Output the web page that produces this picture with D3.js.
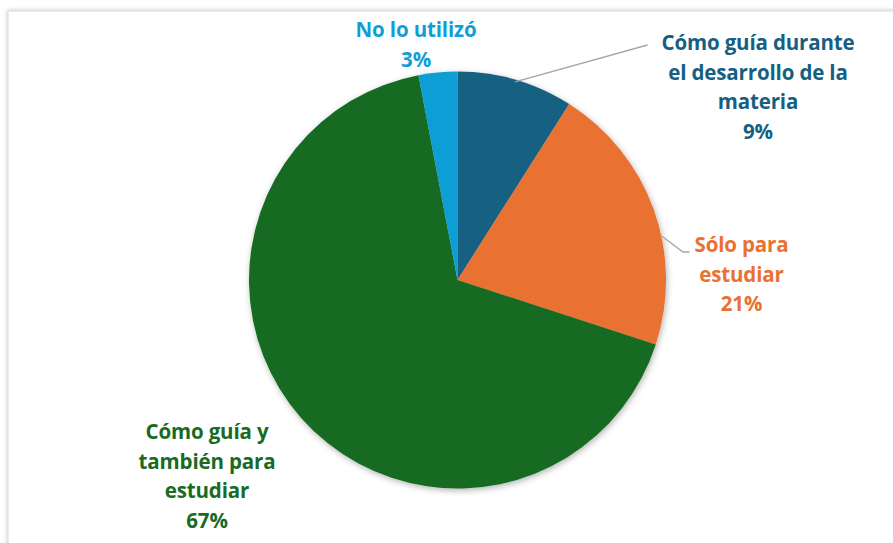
<!DOCTYPE html>
<html><head><meta charset="utf-8">
<script src="https://cdn.jsdelivr.net/npm/d3@7"></script>
<style>
html,body{margin:0;padding:0;background:#fff;}
svg{display:block;}
</style></head>
<body>
<svg id="chart" width="893" height="543"></svg>
<script>
const categories = ["Cómo guía durante el desarrollo de la materia", "Sólo para estudiar", "Cómo guía y también para estudiar", "No lo utilizó"];
const labelLines = [["Cómo guía durante", "el desarrollo de la", "materia"], ["Sólo para", "estudiar"], ["Cómo guía y", "también para", "estudiar"], ["No lo utilizó"]];
const values = [9, 21, 67, 3];
const colors = ["#156082", "#E97132", "#196B24", "#0F9ED5"];

const svg = d3.select("#chart");
const W = 893, H = 543;

const defs = svg.append("defs");
const fs = defs.append("filter").attr("id","frameShadow").attr("x","-5%").attr("y","-5%").attr("width","110%").attr("height","110%");
fs.append("feDropShadow").attr("dx",0).attr("dy",0).attr("stdDeviation",2).attr("flood-color","#000").attr("flood-opacity",0.25);
svg.append("rect").attr("x",8).attr("y",11).attr("width",W+20).attr("height",H+20)
  .attr("fill","#fff").attr("stroke","#d9d9d9").attr("stroke-width",1).attr("filter","url(#frameShadow)");

const ps = defs.append("filter").attr("id","pieShadow").attr("x","-20%").attr("y","-20%").attr("width","140%").attr("height","140%");
ps.append("feDropShadow").attr("dx",1).attr("dy",2).attr("stdDeviation",3).attr("flood-color","#000").attr("flood-opacity",0.3);

const cx = 457.5, cy = 280, R = 208.5;
const g = svg.append("g").attr("transform",`translate(${cx},${cy})`);

const pie = d3.pie().sort(null).value(d => d);
const arcs = pie(values);
const arc = d3.arc().innerRadius(0).outerRadius(R);

g.append("g").attr("filter","url(#pieShadow)").selectAll("path").data(arcs).join("path")
  .attr("d", arc).attr("fill", (d,i) => colors[i]);

const labelPos = [
  {dx: 300.5, dy: -237},
  {dx: 284, dy: -35},
  {dx: -250.5, dy: 152},
  {dx: -41.5, dy: -250}
];
const lh = 29.5;
const fmt = v => v + "%";

// leader lines
const a0 = arcs[0];
const p0 = d3.pointRadial(a0.startAngle + 0.5*(a0.endAngle - a0.startAngle), R*0.99);
g.append("polyline").attr("points", [[p0[0], p0[1]],[190,-235]].map(p=>p.join(",")).join(" "))
  .attr("fill","none").attr("stroke","#a6a6a6").attr("stroke-width",1.3);
const a1 = arcs[1];
const p1 = d3.pointRadial(a1.startAngle + 0.6*(a1.endAngle - a1.startAngle), R*1.0);
g.append("polyline").attr("points", [[p1[0],p1[1]],[225.5,-28],[232,-28]].map(p=>p.join(",")).join(" "))
  .attr("fill","none").attr("stroke","#a6a6a6").attr("stroke-width",1.3);

arcs.forEach((d,i) => {
  const lines = labelLines[i].concat([fmt(values[i])]);
  const t = g.append("text").attr("text-anchor","middle")
    .attr("font-family","'Open Sans', Lato, sans-serif").attr("font-weight","bold")
    .attr("font-size",20.5).attr("letter-spacing",-0.15).attr("fill",colors[i]);
  lines.forEach((ln,k) => {
    t.append("tspan").attr("x", labelPos[i].dx).attr("y", labelPos[i].dy + k*lh + 7).text(ln);
  });
});
</script>
</body></html>
